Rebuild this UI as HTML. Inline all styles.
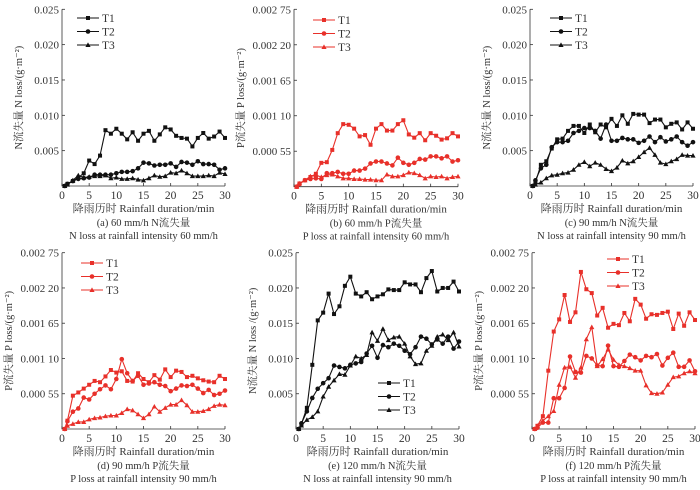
<!DOCTYPE html>
<html><head><meta charset="utf-8"><style>
body{margin:0;background:#fff;width:700px;height:485px;overflow:hidden}
svg text{font-family:"Liberation Serif","Noto Serif CJK SC",serif}
</style></head><body>
<svg id="chart" width="700" height="485" viewBox="0 0 700 485"></svg>
<script>
const times=[0.5,1,2,3,4,5,6,7,8,9,10,11,12,13,14,15,16,17,18,19,20,21,22,23,24,25,26,27,28,29,30];
const xTicks=[0,5,10,15,20,25,30];
const nTicks=[0.005,0.010,0.015,0.020,0.025];
const nTickLabels=["0.005","0.010","0.015","0.020","0.025"];
const pTicks=[0.00055,0.0011,0.00165,0.0022,0.00275];
const pTickLabels=["0.000 55","0.001 10","0.001 65","0.002 20","0.002 75"];
const seriesNames=["T1","T2","T3"];
const aT1=[0,0.0003,0.0007,0.0012,0.0018,0.0036,0.0031,0.0043,0.0079,0.0074,0.0081,0.0074,0.0066,0.0076,0.0064,0.0074,0.0078,0.0064,0.0073,0.0083,0.008,0.0071,0.0068,0.0067,0.0056,0.0068,0.0075,0.0067,0.007,0.0077,0.0068];
const aT2=[0,0.0003,0.0007,0.001,0.0011,0.0012,0.0016,0.0016,0.0016,0.0016,0.0018,0.002,0.002,0.0021,0.0025,0.0033,0.0032,0.0029,0.003,0.003,0.0032,0.0027,0.0034,0.0033,0.003,0.0035,0.0031,0.0031,0.003,0.0023,0.0025];
const aT3=[0,0.0002,0.0008,0.0015,0.0012,0.0013,0.0014,0.0014,0.0015,0.0011,0.0012,0.001,0.001,0.0011,0.0009,0.0008,0.0011,0.0015,0.0013,0.0014,0.0019,0.0018,0.0022,0.0018,0.0014,0.0014,0.0014,0.0015,0.0014,0.0019,0.0017];
const bT1=[0,0.00005,0.0001,0.00015,0.0002,0.00037,0.00038,0.00057,0.00083,0.00097,0.00096,0.0009,0.00078,0.0008,0.00065,0.0009,0.00097,0.00087,0.00087,0.00097,0.00103,0.00081,0.00076,0.00083,0.00072,0.00083,0.00079,0.00073,0.00075,0.00083,0.00078];
const bT2=[0,0.00004,0.0001,0.00012,0.00013,0.00012,0.00021,0.00021,0.00023,0.0002,0.0002,0.00025,0.00025,0.00028,0.00036,0.00039,0.00039,0.00036,0.00033,0.00045,0.00037,0.00034,0.00037,0.00043,0.00042,0.00047,0.00047,0.00044,0.00047,0.00039,0.00041];
const bT3=[0,0.00005,0.0001,0.00016,0.00018,0.00015,0.00018,0.00019,0.00016,0.00013,0.00013,0.00012,0.00012,0.00011,0.00011,0.0001,0.0001,0.00019,0.00016,0.00016,0.00018,0.00022,0.00021,0.00018,0.00013,0.00016,0.00015,0.00016,0.00013,0.00015,0.00016];
const cT1=[0,0.0005,0.003,0.0035,0.0053,0.0066,0.0067,0.0078,0.0085,0.0085,0.0075,0.0087,0.0076,0.0087,0.0083,0.0095,0.0085,0.01,0.0088,0.0102,0.0101,0.0101,0.0089,0.0094,0.0094,0.0083,0.0088,0.009,0.008,0.009,0.0081];
const cT2=[0,0.0008,0.0025,0.003,0.0055,0.0062,0.0062,0.0064,0.0075,0.0078,0.0082,0.0082,0.0078,0.0067,0.0087,0.0064,0.0064,0.0068,0.0066,0.0066,0.0061,0.0064,0.007,0.0062,0.0069,0.0063,0.0066,0.007,0.0062,0.0057,0.0062];
const cT3=[0,0.0002,0.0005,0.0011,0.0015,0.0016,0.0018,0.0019,0.0023,0.003,0.0034,0.0028,0.0033,0.003,0.0024,0.0021,0.0026,0.0036,0.0032,0.0035,0.0041,0.0048,0.0054,0.0044,0.0033,0.0031,0.0035,0.0038,0.0044,0.0043,0.0043];
const dT1=[0,0.00013,0.00052,0.00057,0.00063,0.00069,0.00075,0.00073,0.00082,0.00092,0.00088,0.0009,0.00075,0.00074,0.00087,0.00078,0.00073,0.00084,0.00077,0.00093,0.00081,0.00091,0.00089,0.00081,0.00083,0.00079,0.00076,0.00074,0.00073,0.00083,0.00078];
const dT2=[0,0.00012,0.00027,0.00032,0.00049,0.00046,0.00055,0.00062,0.00068,0.00062,0.00078,0.00109,0.00087,0.00075,0.00083,0.00069,0.00071,0.00073,0.00069,0.00067,0.00059,0.00063,0.00068,0.00067,0.00069,0.00063,0.00056,0.00061,0.00053,0.00055,0.0006];
const dT3=[0,0.00005,0.00008,0.00011,0.00011,0.00015,0.00017,0.00018,0.0002,0.00021,0.00021,0.00025,0.00031,0.00029,0.00023,0.00017,0.00023,0.00035,0.00027,0.00033,0.00038,0.00038,0.00045,0.00037,0.00027,0.00027,0.00028,0.00031,0.00036,0.00038,0.00037];
const eT1=[0,0.0007,0.003,0.0091,0.0154,0.0165,0.0192,0.0163,0.0174,0.0203,0.0216,0.0192,0.0188,0.0194,0.0184,0.0188,0.0191,0.0198,0.0197,0.0197,0.0208,0.0205,0.0205,0.0194,0.0214,0.0224,0.0195,0.02,0.02,0.0209,0.0195];
const eT2=[0,0.0008,0.0025,0.0044,0.0057,0.0065,0.0072,0.009,0.0088,0.0086,0.0091,0.0093,0.0095,0.0107,0.0118,0.0101,0.0119,0.0116,0.0121,0.0118,0.0111,0.0106,0.0116,0.0131,0.0128,0.012,0.0127,0.0121,0.0131,0.0114,0.0124];
const eT3=[0,0.0005,0.0013,0.0017,0.0025,0.0046,0.006,0.0069,0.0078,0.0077,0.009,0.0103,0.01,0.0105,0.0137,0.0125,0.0142,0.0126,0.013,0.0131,0.0121,0.0103,0.0092,0.0093,0.0111,0.0118,0.0131,0.0134,0.0126,0.0137,0.0117];
const fT1=[0,0.00005,0.0002,0.00091,0.00152,0.00171,0.00209,0.00167,0.00182,0.00245,0.00218,0.00212,0.00177,0.00189,0.00158,0.00164,0.00162,0.00181,0.00168,0.00203,0.00194,0.00172,0.00179,0.00178,0.00181,0.00183,0.00156,0.0018,0.00161,0.00182,0.0017];
const fT2=[0,0.00002,0.0001,0.0001,0.00048,0.00048,0.00064,0.00113,0.00089,0.00088,0.00114,0.0011,0.00099,0.00098,0.0013,0.00098,0.00097,0.00106,0.00116,0.00112,0.00107,0.00114,0.00112,0.00117,0.00099,0.00111,0.00119,0.00097,0.00097,0.00107,0.0009];
const fT3=[0,0.00005,0.00013,0.0002,0.00028,0.00069,0.00096,0.00097,0.0008,0.00096,0.0014,0.00159,0.00098,0.00109,0.00124,0.00108,0.001,0.00098,0.00095,0.00091,0.00091,0.00068,0.00056,0.00055,0.00057,0.00069,0.00081,0.00082,0.00087,0.0009,0.00087];

const svg=document.getElementById('chart');
const NS='http://www.w3.org/2000/svg';
function mk(tag,attrs,parent,text){const e=document.createElementNS(NS,tag);for(const k in attrs)e.setAttribute(k,attrs[k]);if(text!==undefined)e.textContent=text;parent.appendChild(e);return e;}

const panels=[
 {id:'a',x0:62,x1:225,yb:186,yt:9.3,max:0.025,ticks:nTicks,labels:nTickLabels,data:[aT1,aT2,aT3],color:'#111',ytitle:'N流失量 N loss/(g·m⁻²)',tOff:40,cap1:'(a) 60 mm/h N流失量',cap2:'N loss at rainfall intensity 60 mm/h',lx:77,ly:18},
 {id:'b',x0:294,x1:458,yb:186.7,yt:9.3,max:0.00275,ticks:pTicks,labels:pTickLabels,data:[bT1,bT2,bT3],color:'#e8302a',ytitle:'P流失量 P loss/(g·m⁻²)',tOff:50,cap1:'(b) 60 mm/h P流失量',cap2:'P loss at rainfall intensity 60 mm/h',lx:313,ly:20},
 {id:'c',x0:530,x1:693,yb:186,yt:9.3,max:0.025,ticks:nTicks,labels:nTickLabels,data:[cT1,cT2,cT3],color:'#111',ytitle:'N流失量 N loss/(g·m⁻²)',tOff:40,cap1:'(c) 90 mm/h N流失量',cap2:'N loss at rainfall intensity 90 mm/h',lx:550,ly:18},
 {id:'d',x0:62,x1:225,yb:429,yt:252.7,max:0.00275,ticks:pTicks,labels:pTickLabels,data:[dT1,dT2,dT3],color:'#e8302a',ytitle:'P流失量 P loss/(g·m⁻²)',tOff:50,cap1:'(d) 90 mm/h P流失量',cap2:'P loss at rainfall intensity 90 mm/h',lx:81,ly:263},
 {id:'e',x0:296,x1:459,yb:429,yt:252.7,max:0.025,ticks:nTicks,labels:nTickLabels,data:[eT1,eT2,eT3],color:'#111',ytitle:'N流失量 N loss /(g·m⁻²)',tOff:40,cap1:'(e) 120 mm/h N流失量',cap2:'N loss at rainfall intensity 90 mm/h',lx:378,ly:383},
 {id:'f',x0:532,x1:695,yb:429,yt:252.7,max:0.00275,ticks:pTicks,labels:pTickLabels,data:[fT1,fT2,fT3],color:'#e8302a',ytitle:'P流失量 P loss/(g·m⁻²)',tOff:50,cap1:'(f) 120 mm/h P流失量',cap2:'P loss at rainfall intensity 90 mm/h',lx:607,ly:259}
];

function marker(g,shape,x,y,c){
  if(shape===0)return mk('rect',{x:x-2,y:y-2,width:4,height:4,fill:c},g);
  if(shape===1)return mk('circle',{cx:x,cy:y,r:2.3,fill:c},g);
  return mk('polygon',{points:`${x},${y-2.6} ${x+2.6},${y+2} ${x-2.6},${y+2}`,fill:c},g);
}

panels.forEach(p=>{
  const g=mk('g',{},svg);
  
  
  const xs=t=>p.x0+(t/30)*(p.x1-p.x0);
  const ys=v=>p.yb-(v/p.max)*(p.yb-p.yt);
  const ax=mk('path',{d:`M${p.x0},${p.yt} V${p.yb} H${p.x1}`,stroke:'#333',fill:'none','stroke-width':0.8},g);
  
  
  xTicks.forEach(t=>{
    const x=xs(t);
    mk('line',{x1:x,y1:p.yb,x2:x,y2:p.yb-3,stroke:'#333','stroke-width':0.8},g);
    const tl=mk('text',{x:x,y:p.yb+13,'font-size':11.5,'text-anchor':'middle',fill:'#333'},g,String(t));
    
    
  });
  p.ticks.forEach((v,i)=>{
    const y=ys(v);
    mk('line',{x1:p.x0,y1:y,x2:p.x0+3,y2:y,stroke:'#333','stroke-width':0.8},g);
    const tl=mk('text',{x:p.x0-3,y:y+4,'font-size':11,'text-anchor':'end',fill:'#333'},g,p.labels[i]);
    
    
  });
  const cy=(p.yb+p.yt)/2;
  const yt=mk('text',{x:0,y:0,'font-size':10.5,'text-anchor':'middle',fill:'#333',transform:`translate(${p.x0-p.tOff},${cy}) rotate(-90)`},g,p.ytitle);
  
  
  const mx=(p.x0+p.x1)/2;
  const xt=mk('text',{x:mx,y:p.yb+26,'font-size':11,'text-anchor':'middle',fill:'#333'},g,'降雨历时 Rainfall duration/min');
  
  
  const c1=mk('text',{x:mx,y:p.yb+40,'font-size':10.5,'text-anchor':'middle',fill:'#333'},g,p.cap1);
  
  
  const c2=mk('text',{x:mx,y:p.yb+53,'font-size':10.5,'text-anchor':'middle',fill:'#333'},g,p.cap2);
  
  
  p.data.forEach((arr,si)=>{
    const sg=mk('g',{},g);
    
    
    const pts=arr.map((v,i)=>`${xs(times[i]).toFixed(1)},${ys(v).toFixed(1)}`).join(' ');
    const ln=mk('polyline',{points:pts,fill:'none',stroke:p.color,'stroke-width':1.1},sg);
    
    
    arr.forEach((v,i)=>{
      const m=marker(sg,si,xs(times[i]),ys(v),p.color);
      
      
    });
    const ly=p.ly+si*13.5;
    const lg=mk('g',{},g);
    
    
    mk('line',{x1:p.lx,y1:ly,x2:p.lx+22,y2:ly,stroke:p.color,'stroke-width':1.1},lg);
    marker(lg,si,p.lx+11,ly,p.color);
    mk('text',{x:p.lx+25,y:ly+4,'font-size':11.5,fill:'#333'},lg,seriesNames[si]);
  });
});
</script>
</body></html>
